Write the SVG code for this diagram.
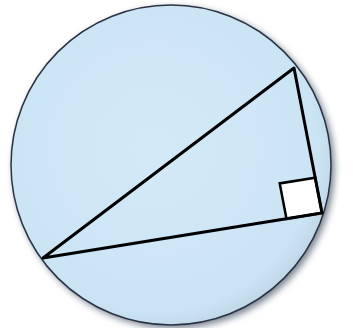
<svg xmlns="http://www.w3.org/2000/svg" width="353" height="328" viewBox="0 0 353 328">
<defs>
<filter id="sh" x="-10%" y="-10%" width="125%" height="125%">
<feGaussianBlur in="SourceAlpha" stdDeviation="3"/>
<feOffset dx="3" dy="3" result="b"/>
<feFlood flood-color="#1a2a40" flood-opacity="0.55"/>
<feComposite in2="b" operator="in"/>
<feMerge><feMergeNode/><feMergeNode in="SourceGraphic"/></feMerge>
</filter>
<radialGradient id="g" cx="0.45" cy="0.45" r="0.6">
<stop offset="0" stop-color="#d3e9f7"/>
<stop offset="0.85" stop-color="#cbe4f4"/>
<stop offset="1" stop-color="#b9cfe0"/>
</radialGradient>
<style>
.edge{fill:none;stroke:#000;stroke-width:3;stroke-linejoin:round;stroke-linecap:round}
</style>
</defs>
<rect width="353" height="328" fill="#fff"/>
<g id="circle">
<circle cx="171" cy="165" r="160" fill="url(#g)" stroke="#2a3344" stroke-width="1.5" filter="url(#sh)"/>
</g>
<g id="right-angle">
<polygon points="322,213 315.2,177.7 279.7,183.4 286.5,218.7" fill="#fff" stroke="#000" stroke-width="2.5"/>
</g>
<g id="connectors">
<polygon class="edge" points="43,258 294,68 322,213"/>
</g>
</svg>
